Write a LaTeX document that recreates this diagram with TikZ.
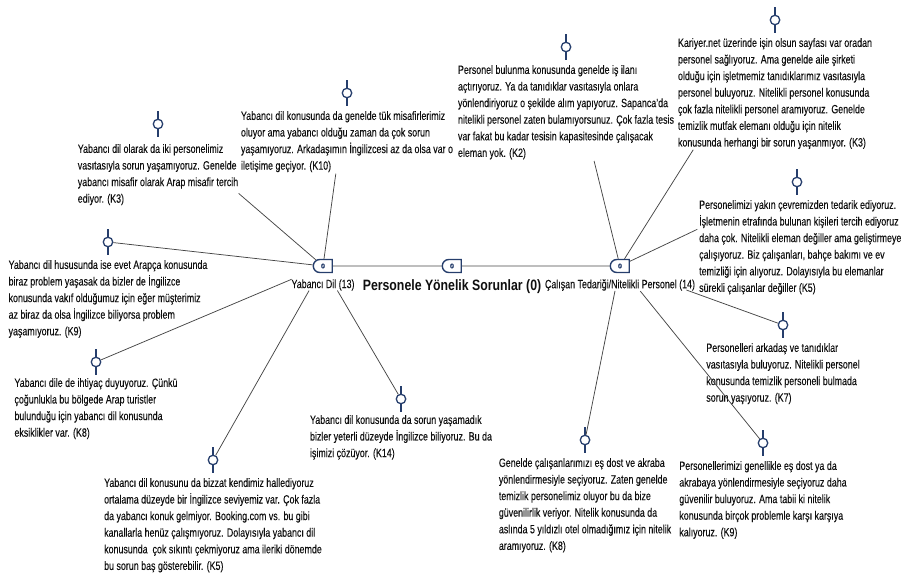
\documentclass[tikz,border=0pt]{standalone}
\usepackage{fontspec}
\setmainfont{Liberation Sans}[FakeStretch=0.74, FakeBold=0.1]
\newfontfamily\titlefont{Liberation Sans}[FakeStretch=0.82]
\usetikzlibrary{shapes.misc}

\definecolor{pinblue}{RGB}{38,62,108}
\definecolor{linkgray}{RGB}{70,70,70}
\definecolor{textgray}{RGB}{15,15,15}
\newcommand{\memosize}{\fontsize{12}{16.6}\selectfont}

\tikzset{
  codeicon/.style={rounded rectangle, rounded rectangle right arc=none, draw=pinblue,
    line width=1.4pt, minimum width=19pt, minimum height=13pt, inner sep=0pt,
    text=pinblue, font=\fontsize{9}{9}\selectfont\bfseries},
  codelabel/.style={font=\memosize, text=textgray, inner sep=1pt, below=5pt},
  memopin/.style={circle, draw=pinblue, line width=1.3pt, minimum size=9.5pt, inner sep=0pt,
    append after command={(\tikzlastnode.north) edge[pinblue, line width=1.3pt] ++(0,-8)
                          (\tikzlastnode.south) edge[pinblue, line width=1.3pt] ++(0,8)}},
  memotext/.style={align=left, anchor=north, font=\memosize, text=textgray, inner sep=0pt},
  link/.style={linkgray, line width=0.75pt},
}

\begin{document}
\begin{tikzpicture}[x=1pt, y=-1pt]
    \useasboundingbox (0,0) rectangle (901,580);
    % codes
    \node[codeicon] (yd) at (323,266) {o\hspace{4pt}};
    \node[codeicon] (ps) at (452,266) {o\hspace{4pt}};
    \node[codeicon] (ct) at (620,266) {o\hspace{4pt}};
    \node[codelabel] (ydl) at (yd.south) {Yabancı Dil (13)};
    \node[codelabel, font=\titlefont\fontsize{15}{17}\selectfont\bfseries] (psl) at (ps.south)
      {Personele Yönelik Sorunlar (0)};
    \node[codelabel] (ctl) at (ct.south) {Çalışan Tedariği/Nitelikli Personel (14)};

    % Yabanci Dil memos
    \node[memopin] (p3l) at (158,124) {};
    \node[memotext] (m3l) at (158,144) {Yabancı dil olarak da iki personelimiz\\
      vasıtasıyla sorun yaşamıyoruz. Genelde\\
      yabancı misafir olarak Arap misafir tercih\\
      ediyor. (K3)};
    \node[memopin] (p10) at (347,93) {};
    \node[memotext] (m10) at (347,111) {Yabancı dil konusunda da genelde tük misafirlerimiz\\
      oluyor ama yabancı olduğu zaman da çok sorun\\
      yaşamıyoruz. Arkadaşımın İngilizcesi az da olsa var o\\
      iletişime geçiyor. (K10)};
    \node[memopin] (p9l) at (108,242) {};
    \node[memotext] (m9l) at (108,260) {Yabancı dil hususunda ise evet Arapça konusunda\\
      biraz problem yaşasak da bizler de İngilizce\\
      konusunda vakıf olduğumuz için eğer müşterimiz\\
      az biraz da olsa İngilizce biliyorsa problem\\
      yaşamıyoruz. (K9)};
    \node[memopin] (p8l) at (96,362) {};
    \node[memotext] (m8l) at (96,378) {Yabancı dile de ihtiyaç duyuyoruz. Çünkü\\
      çoğunlukla bu bölgede Arap turistler\\
      bulunduğu için yabancı dil konusunda\\
      eksiklikler var. (K8)};
    \node[memopin] (p14) at (401,399) {};
    \node[memotext] (m14) at (401,415) {Yabancı dil konusunda da sorun yaşamadık\\
      bizler yeterli düzeyde İngilizce biliyoruz. Bu da\\
      işimizi çözüyor. (K14)};
    \node[memopin] (p5l) at (213,460) {};
    \node[memotext] (m5l) at (213,478) {Yabancı dil konusunu da bizzat kendimiz hallediyoruz\\
      ortalama düzeyde bir İngilizce seviyemiz var. Çok fazla\\
      da yabancı konuk gelmiyor. Booking.com vs. bu gibi\\
      kanallarla henüz çalışmıyoruz. Dolayısıyla yabancı dil\\
      konusunda\ \ çok sıkıntı çekmiyoruz ama ileriki dönemde\\
      bu sorun baş gösterebilir. (K5)};

    % Calisan Tedarigi memos
    \node[memopin] (p2) at (566,47) {};
    \node[memotext] (m2) at (566,65) {Personel bulunma konusunda genelde iş ilanı\\
      açtırıyoruz. Ya da tanıdıklar vasıtasıyla onlara\\
      yönlendiriyoruz o şekilde alım yapıyoruz. Sapanca'da\\
      nitelikli personel zaten bulamıyorsunuz. Çok fazla tesis\\
      var fakat bu kadar tesisin kapasitesinde çalışacak\\
      eleman yok. (K2)};
    \node[memopin] (p3r) at (775,20) {};
    \node[memotext] (m3r) at (775,38) {Kariyer.net üzerinde işin olsun sayfası var oradan\\
      personel sağlıyoruz. Ama genelde aile şirketi\\
      olduğu için işletmemiz tanıdıklarımız vasıtasıyla\\
      personel buluyoruz. Nitelikli personel konusunda\\
      çok fazla nitelikli personel aramıyoruz. Genelde\\
      temizlik mutfak elemanı olduğu için nitelik\\
      konusunda herhangi bir sorun yaşanmıyor. (K3)};
    \node[memopin] (p5r) at (797,182) {};
    \node[memotext, anchor=north west] (m5r) at (699,200) {Personelimizi yakın çevremizden tedarik ediyoruz.\\
      İşletmenin etrafında bulunan kişileri tercih ediyoruz\\
      daha çok. Nitelikli eleman değiller ama geliştirmeye\\
      çalışıyoruz. Biz çalışanları, bahçe bakımı ve ev\\
      temizliği için alıyoruz. Dolayısıyla bu elemanlar\\
      sürekli çalışanlar değiller (K5)};
    \node[memopin] (p7) at (783,325) {};
    \node[memotext] (m7) at (783,343) {Personelleri arkadaş ve tanıdıklar\\
      vasıtasıyla buluyoruz. Nitelikli personel\\
      konusunda temizlik personeli bulmada\\
      sorun yaşıyoruz. (K7)};
    \node[memopin] (p8r) at (585,440) {};
    \node[memotext] (m8r) at (585,458) {Genelde çalışanlarımızı eş dost ve akraba\\
      yönlendirmesiyle seçiyoruz. Zaten genelde\\
      temizlik personelimiz oluyor bu da bize\\
      güvenilirlik veriyor. Nitelik konusunda da\\
      aslında 5 yıldızlı otel olmadığımız için nitelik\\
      aramıyoruz. (K8)};
    \node[memopin] (p9r) at (763,443) {};
    \node[memotext] (m9r) at (763,461) {Personellerimizi genellikle eş dost ya da\\
      akrabaya yönlendirmesiyle seçiyoruz daha\\
      güvenilir buluyoruz. Ama tabii ki nitelik\\
      konusunda birçok problemle karşı karşıya\\
      kalıyoruz. (K9)};

    % links
    \draw[link] (yd) -- (ps);
    \draw[link] (ps) -- (ct);
    \draw[link, shorten >=101pt] (yd) -- (p3l);
    \draw[link, shorten >=76pt] (yd) -- (p10);
    \draw[link] (yd) -- (p9l);
    \draw[link, shorten <=24pt] (yd) -- (p8l);
    \draw[link, shorten <=20pt] (yd) -- (p14);
    \draw[link, shorten <=20pt] (yd) -- (p5l);
    \draw[link, shorten >=112pt] (ct) -- (p2);
    \draw[link, shorten >=148pt] (ct) -- (p3r);
    \draw[link, shorten >=105pt] (ct) -- (p5r);
    \draw[link, shorten <=60pt] (ct) -- (p7);
    \draw[link, shorten <=18pt] (ct) -- (p8r);
    \draw[link, shorten <=23pt] (ct) -- (p9r);
\end{tikzpicture}
\end{document}
